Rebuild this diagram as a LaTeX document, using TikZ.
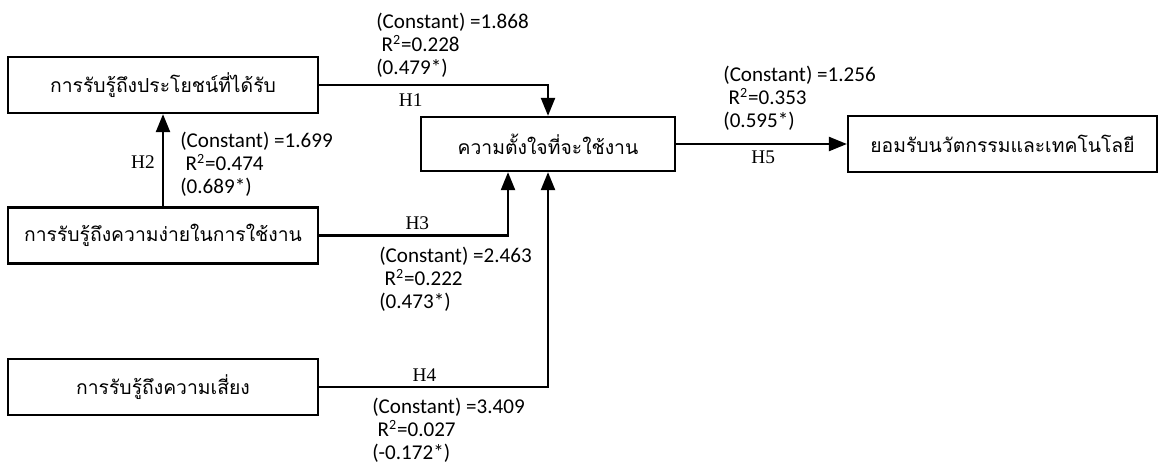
\documentclass[tikz,border=0pt]{standalone}
\usepackage{fontspec}
\setmainfont{Liberation Serif}
\newfontfamily\thaifont[Script=Thai]{Loma}
\newfontfamily\statfont{Carlito}
\usetikzlibrary{arrows.meta}
\tikzstyle{box} = [draw, line width=1.3pt, minimum width=6.2cm, minimum height=1.12cm, inner sep=0pt, font=\thaifont\fontsize{11}{13}\selectfont]
\tikzstyle{arrow} = [line width=1.3pt, -{Triangle[length=0.36cm, width=0.28cm]}]
\tikzstyle{hyp} = [font=\fontsize{11}{13}\selectfont, inner sep=0pt]
\tikzstyle{stat} = [font=\statfont\fontsize{12}{13.1}\selectfont, align=left, anchor=north west, inner sep=0pt]

\begin{document}
\begin{tikzpicture}[x=0.02cm, y=-0.02cm]
        \useasboundingbox (0,0) rectangle (1158,463);

        \node at (163,85) [box](benefit) {การรับรู้ถึงประโยชน์ที่ได้รับ};
        \node at (163,235.5) [box](ease) {การรับรู้ถึงความง่ายในการใช้งาน};
        \node at (163,387) [box](risk) {การรับรู้ถึงความเสี่ยง};
        \node at (548,144) [box, minimum width=5.08cm, minimum height=1.08cm](intent) {ความตั้งใจที่จะใช้งาน};
        \node at (1002.5,144) [box, minimum width=6.18cm](accept) {ยอมรับนวัตกรรมและเทคโนโลยี};

        \draw[arrow] (benefit.east) -| node[hyp, pos=0.2, yshift=-0.3cm](h1){H1} (intent.north);
        \draw[arrow] (ease.north) -- node[hyp, pos=0.48, xshift=-0.4cm](h2){H2} (benefit.south);
        \draw[arrow] (ease.east) -| node[hyp, pos=0.26, yshift=0.25cm](h3){H3} ([xshift=-0.8cm]intent.south);
        \draw[arrow] (risk.east) -| node[hyp, pos=0.23, yshift=0.24cm](h4){H4} (intent.south);
        \draw[arrow] (intent.east) -- node[hyp, pos=0.51, yshift=-0.26cm](h5){H5} (accept.west);

        \node at (376,13) [stat](s1) {(Constant) =1.868\\\hspace*{3pt}R\textsuperscript{2}=0.228\\(0.479*)};
        \node at (180,132) [stat](s2) {(Constant) =1.699\\\hspace*{3pt}R\textsuperscript{2}=0.474\\(0.689*)};
        \node at (379,247) [stat](s3) {(Constant) =2.463\\\hspace*{3pt}R\textsuperscript{2}=0.222\\(0.473*)};
        \node at (372,398) [stat](s4) {(Constant) =3.409\\\hspace*{3pt}R\textsuperscript{2}=0.027\\(-0.172*)};
        \node at (723,66) [stat](s5) {(Constant) =1.256\\\hspace*{3pt}R\textsuperscript{2}=0.353\\(0.595*)};

    \end{tikzpicture}
\end{document}
